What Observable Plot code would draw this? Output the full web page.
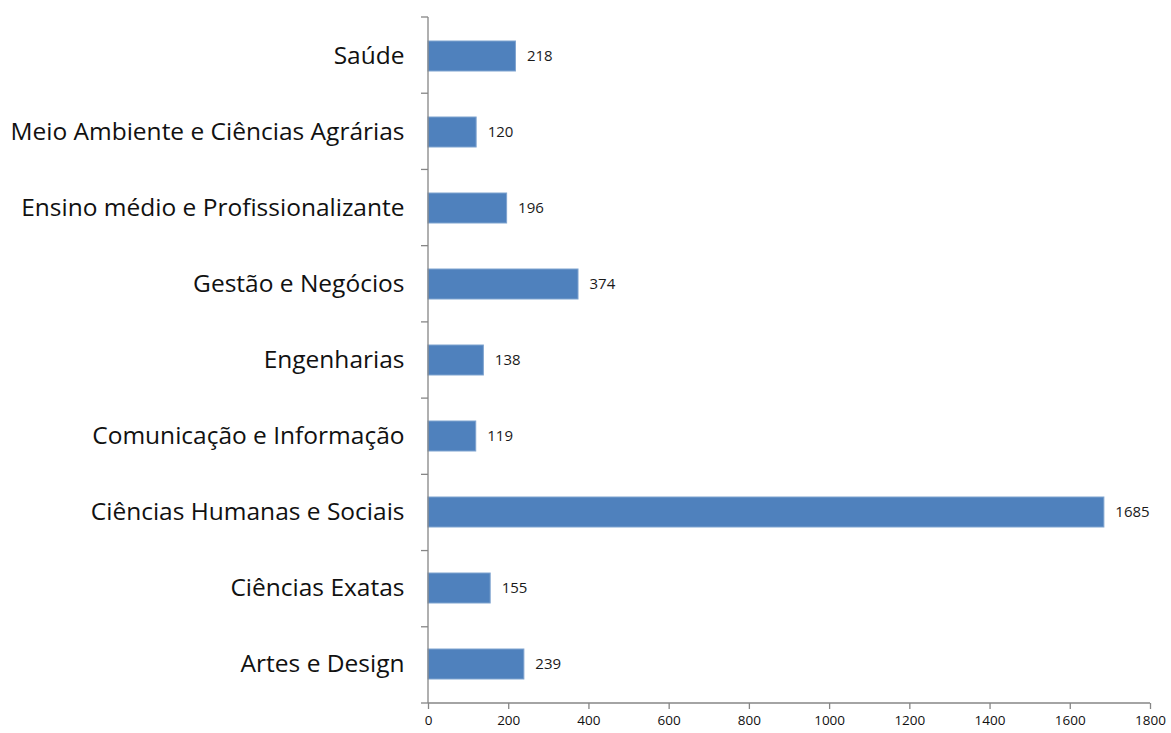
<!DOCTYPE html>
<html>
<head>
<meta charset="utf-8">
<script src="https://cdn.jsdelivr.net/npm/d3@7"></script>
<script src="https://cdn.jsdelivr.net/npm/@observablehq/plot@0.6"></script>
<style>
  html, body { margin: 0; padding: 0; background: #fff; }
  #chart svg { display: block; }
</style>
</head>
<body>
<div id="chart"></div>
<script>
const categories = [
  "Saúde",
  "Meio Ambiente e Ciências Agrárias",
  "Ensino médio e Profissionalizante",
  "Gestão e Negócios",
  "Engenharias",
  "Comunicação e Informação",
  "Ciências Humanas e Sociais",
  "Ciências Exatas",
  "Artes e Design"
];
const values = [218, 120, 196, 374, 138, 119, 1685, 155, 239];
const xTicks = [0, 200, 400, 600, 800, 1000, 1200, 1400, 1600, 1800];

const data = categories.map((c, i) => ({category: c, value: values[i]}));

const W = 1171, H = 733;
const mT = 17, mB = 30, mL = 428, mR = 21;
const axisColor = "#868686";
const NS = "http://www.w3.org/2000/svg";

function line(g, x1, y1, x2, y2) {
  const l = document.createElementNS(NS, "line");
  l.setAttribute("x1", x1); l.setAttribute("x2", x2);
  l.setAttribute("y1", y1); l.setAttribute("y2", y2);
  l.setAttribute("stroke", axisColor);
  l.setAttribute("stroke-width", 1.3);
  g.appendChild(l);
}

// axis lines and boundary tick marks on the category axis (between bands)
function axisFrame(index, scales, values, dims) {
  const n = categories.length;
  const bottom = dims.height - dims.marginBottom;
  const right = dims.width - dims.marginRight;
  const step = (bottom - dims.marginTop) / n;
  const g = document.createElementNS(NS, "g");
  for (let i = 0; i <= n; i++) {
    const y = dims.marginTop + i * step;
    line(g, dims.marginLeft - 7, y, dims.marginLeft, y);
  }
  line(g, dims.marginLeft, dims.marginTop, dims.marginLeft, bottom);
  line(g, dims.marginLeft, bottom, right, bottom);
  return g;
}

const chart = Plot.plot({
  width: W,
  height: H,
  marginTop: mT,
  marginBottom: mB,
  marginLeft: mL,
  marginRight: mR,
  style: {fontFamily: "'Open Sans', 'Liberation Sans', sans-serif", background: "#fff"},
  x: {domain: [0, 1800], ticks: xTicks},
  y: {domain: categories, paddingInner: 0.6, paddingOuter: 0.3},
  marks: [
    Plot.barX(data, {x: "value", y: "category", fill: "#4F81BD", stroke: "#7FA3CF", strokeWidth: 1}),
    Plot.text(data, {x: "value", y: "category", text: d => String(d.value), textAnchor: "start", dx: 11, fontSize: 15, fill: "#1a1a1a"}),
    Plot.axisY({tickSize: 0, tickPadding: 24, fontSize: 24.5, fill: "#111", label: null, stroke: "none"}),
    Plot.axisX({ticks: xTicks, tickFormat: d => String(d), tickSize: 6, tickPadding: 6, fontSize: 13.5, fill: "#111", stroke: axisColor, strokeWidth: 1.3, label: null}),
    axisFrame
  ]
});
document.getElementById("chart").appendChild(chart);
</script>
</body>
</html>
